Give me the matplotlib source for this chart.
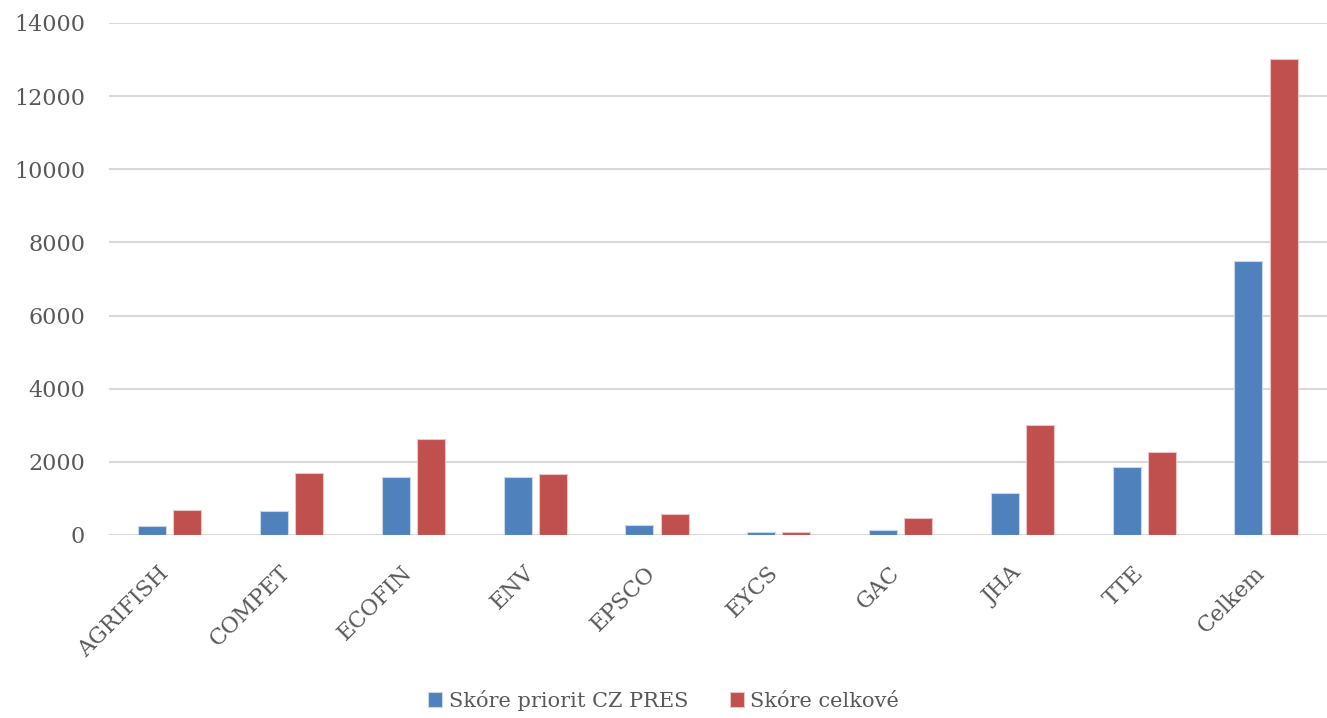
import matplotlib
matplotlib.use("Agg")
import matplotlib.pyplot as plt
import numpy as np

categories = ["AGRIFISH", "COMPET", "ECOFIN", "ENV", "EPSCO", "EYCS", "GAC", "JHA", "TTE", "Celkem"]
skore_priorit = [250, 665, 1580, 1595, 265, 75, 130, 1150, 1860, 7500]
skore_celkove = [680, 1690, 2615, 1670, 575, 70, 465, 3010, 2270, 13020]
series_names = ["Skóre priorit CZ PRES", "Skóre celkové"]
yticks = [0, 2000, 4000, 6000, 8000, 10000, 12000, 14000]

plt.rcParams['font.family'] = ['DejaVu Serif']
text_color = "#595959"

fig = plt.figure(figsize=(13.27, 7.18), dpi=100)
ax = fig.add_axes([0.082, 0.255, 0.918, 0.713])

x = np.arange(len(categories))
w = 0.23
off = 0.145
ax.bar(x - off, skore_priorit, w, color="#4F81BD", edgecolor="#C9D7EA", linewidth=0.8,
       label=series_names[0], zorder=3)
ax.bar(x + off, skore_celkove, w, color="#C0504D", edgecolor="#EBC4C3", linewidth=0.8,
       label=series_names[1], zorder=3)

ax.set_xlim(-0.5, len(categories) - 0.5)
ax.set_ylim(0, 14000)
ax.set_yticks(yticks)
ax.set_yticklabels([str(t) for t in yticks], fontsize=16, color=text_color)
ax.yaxis.grid(True, color="#D9D9D9", linewidth=1.5, zorder=0)
ax.set_axisbelow(True)
for s in ax.spines.values():
    s.set_visible(False)
ax.tick_params(axis='y', length=0, pad=17)
ax.tick_params(axis='x', length=0, pad=28)
ax.set_xticks(x)
ax.set_xticklabels(categories, rotation=45, ha='right', va='baseline', rotation_mode='anchor',
                   fontsize=16, color=text_color)

leg = fig.legend(loc='lower center', bbox_to_anchor=(0.5, -0.016), ncol=2, frameon=False,
                 fontsize=15, handlelength=0.7, handleheight=0.7, handletextpad=0.3,
                 columnspacing=2.0)
for t in leg.get_texts():
    t.set_color(text_color)

fig.savefig("out.png", dpi=100)
